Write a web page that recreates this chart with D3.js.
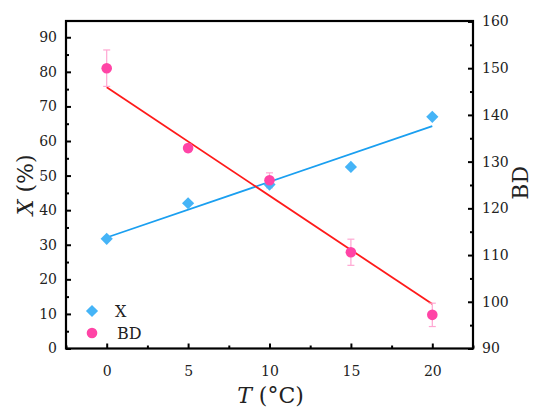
<!DOCTYPE html>
<html>
<head>
<meta charset="utf-8">
<script src="https://cdn.jsdelivr.net/npm/d3@7"></script>
<style>
  body { margin: 0; background: #fff; }
</style>
</head>
<body>
<div class="chart"></div>
<script>
// temperature levels
const temps = [0, 5, 10, 15, 20];
// X (%) — left axis
const xVals = [31.7, 42.0, 47.4, 52.5, 67.0];
// BD — right axis, with error
const bdVals = [150.0, 132.9, 126.0, 110.6, 97.2];
const bdErr = [3.9, 0.8, 1.6, 2.8, 2.5];
// fitted lines (end points)
const fitT = [0, 20];
const fitX = [32.1, 64.3];
const fitBD = [145.9, 99.5];

const xTicks = [0, 5, 10, 15, 20];
const leftTicks = [0, 10, 20, 30, 40, 50, 60, 70, 80, 90];
const rightTicks = [90, 100, 110, 120, 130, 140, 150, 160];

const FONT = '"DejaVu Serif", "Liberation Serif", "Noto Serif", serif';
const W = 538, H = 410;
const margin = { top: 21, right: 65, bottom: 61.5, left: 66 };
const width = W - margin.left - margin.right;
const height = H - margin.top - margin.bottom;

const svg = d3.select('.chart').append('svg')
  .attr('width', W)
  .attr('height', H)
  .style('font-family', FONT);

const g = svg.append('g')
  .attr('transform', `translate(${margin.left},${margin.top})`);

const x = d3.scaleLinear().domain([-2.5, 22.5]).range([0, width]);
const yL = d3.scaleLinear().domain([0, 94.7]).range([height, 0]);
const yR = d3.scaleLinear().domain([90, 160.1]).range([height, 0]);

// minor ticks
const minorX = d3.range(-2.5, 22.6, 2.5).filter(d => !xTicks.includes(d));
const minorL = d3.range(5, 95, 10);
const minorR = d3.range(95, 160, 10);

function styleAxis(sel) {
  sel.attr('font-family', null).style('font-family', FONT);
  sel.select('.domain').remove();
  sel.selectAll('.tick line').attr('stroke', '#000').attr('stroke-width', 2);
  sel.selectAll('.tick text')
    .attr('font-size', 14)
    .style('font-family', FONT)
    .attr('fill', '#222');
}

// bottom axis
g.append('g')
  .attr('transform', `translate(0,${height})`)
  .call(d3.axisBottom(x).tickValues(xTicks).tickSizeInner(-5).tickSizeOuter(0).tickPadding(18))
  .call(styleAxis);
g.append('g')
  .attr('transform', `translate(0,${height})`)
  .call(d3.axisBottom(x).tickValues(minorX).tickSizeInner(-3).tickSizeOuter(0).tickFormat(''))
  .call(styleAxis);

// left axis
g.append('g')
  .call(d3.axisLeft(yL).tickValues(leftTicks).tickSizeInner(-5).tickSizeOuter(0).tickPadding(9))
  .call(styleAxis);
g.append('g')
  .call(d3.axisLeft(yL).tickValues(minorL).tickSizeInner(-3).tickSizeOuter(0).tickFormat(''))
  .call(styleAxis);

// right axis
g.append('g')
  .attr('transform', `translate(${width},0)`)
  .call(d3.axisRight(yR).tickValues(rightTicks).tickSizeInner(-5).tickSizeOuter(0).tickPadding(9))
  .call(styleAxis);
g.append('g')
  .attr('transform', `translate(${width},0)`)
  .call(d3.axisRight(yR).tickValues(minorR).tickSizeInner(-3).tickSizeOuter(0).tickFormat(''))
  .call(styleAxis);

// frame
g.append('rect')
  .attr('width', width)
  .attr('height', height)
  .attr('fill', 'none')
  .attr('stroke', '#000')
  .attr('stroke-width', 2.2);

// fit lines
const fitLineX = d3.line().x(d => x(d[0])).y(d => yL(d[1]));
const fitLineBD = d3.line().x(d => x(d[0])).y(d => yR(d[1]));

g.append('path')
  .datum(d3.zip(fitT, fitX))
  .attr('d', fitLineX)
  .attr('fill', 'none')
  .attr('stroke', '#1a9ff0')
  .attr('stroke-width', 1.8);

g.append('path')
  .datum(d3.zip(fitT, fitBD))
  .attr('d', fitLineBD)
  .attr('fill', 'none')
  .attr('stroke', '#ff1a1a')
  .attr('stroke-width', 1.8);

// error bars
const bd = temps.map((t, i) => ({ t, v: bdVals[i], e: bdErr[i] }));
const eb = g.append('g').attr('stroke', '#ffa6d2').attr('stroke-width', 1.2);
bd.forEach(d => {
  const cx = x(d.t);
  eb.append('line').attr('x1', cx).attr('x2', cx).attr('y1', yR(d.v - d.e)).attr('y2', yR(d.v + d.e));
  eb.append('line').attr('x1', cx - 3.5).attr('x2', cx + 3.5).attr('y1', yR(d.v - d.e)).attr('y2', yR(d.v - d.e));
  eb.append('line').attr('x1', cx - 3.5).attr('x2', cx + 3.5).attr('y1', yR(d.v + d.e)).attr('y2', yR(d.v + d.e));
});

// X diamonds
const diamond = d3.symbol().type(d3.symbolDiamond2).size(95);
g.selectAll('.xpt')
  .data(temps.map((t, i) => ({ t, v: xVals[i] })))
  .enter().append('path')
  .attr('class', 'xpt')
  .attr('d', diamond)
  .attr('transform', d => `translate(${x(d.t)},${yL(d.v)})`)
  .attr('fill', '#45b4f7');

// BD circles
g.selectAll('.bdpt')
  .data(bd)
  .enter().append('circle')
  .attr('class', 'bdpt')
  .attr('cx', d => x(d.t))
  .attr('cy', d => yR(d.v))
  .attr('r', 5.3)
  .attr('fill', '#ff44a6');

// legend
const leg = g.append('g').attr('transform', 'translate(26,290)');
leg.append('path')
  .attr('d', diamond)
  .attr('fill', '#45b4f7');
leg.append('text').attr('x', 23).attr('y', 6).attr('font-size', 16).attr('fill', '#222').text('X');
leg.append('circle').attr('cx', 0).attr('cy', 22).attr('r', 5.3).attr('fill', '#ff44a6');
leg.append('text').attr('x', 25).attr('y', 28).attr('font-size', 16).attr('fill', '#222').text('BD');

// axis titles
const xt = svg.append('text')
  .attr('x', margin.left + width / 2 + 1)
  .attr('y', 403)
  .attr('text-anchor', 'middle')
  .attr('font-size', 22)
  .attr('fill', '#222');
xt.append('tspan').attr('font-style', 'italic').text('T');
xt.append('tspan').text(' (°C)');

const yt = svg.append('text')
  .attr('transform', `translate(33,${margin.top + height / 2}) rotate(-90)`)
  .attr('text-anchor', 'middle')
  .attr('font-size', 22)
  .attr('fill', '#222');
yt.append('tspan').attr('font-style', 'italic').text('X');
yt.append('tspan').text(' (%)');

svg.append('text')
  .attr('transform', `translate(528,${margin.top + height / 2 - 2}) rotate(-90)`)
  .attr('text-anchor', 'middle')
  .attr('font-size', 22)
  .attr('fill', '#222')
  .text('BD');
</script>
</body>
</html>
